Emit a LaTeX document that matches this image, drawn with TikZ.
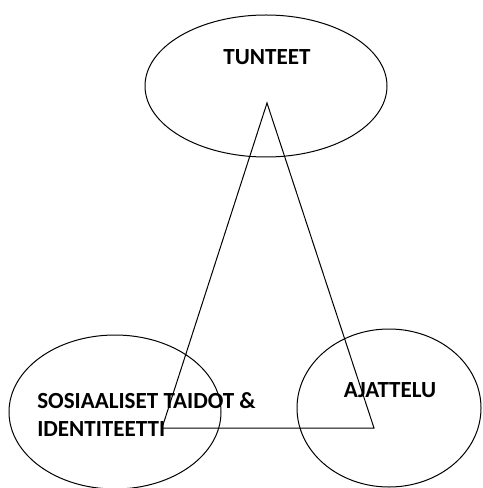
\documentclass[tikz,border=0pt]{standalone}
\usepackage{fontspec}
\setmainfont{Carlito}
\usetikzlibrary{shapes.geometric}
\begin{document}
\begin{tikzpicture}[x=0.75pt,y=-0.75pt,
  bubble/.style={draw, ellipse, inner sep=0pt, line width=0.75pt},
  label/.style={font=\bfseries\fontsize{17.3}{21}\selectfont, inner sep=0pt}]
\useasboundingbox (0,0) rectangle (482,488);
\node[bubble, minimum width=181.5pt, minimum height=106.5pt] (tunteet) at (266,86) {};
\node[bubble, minimum width=159pt, minimum height=115.5pt] (sosiaaliset) at (115,412) {};
\node[bubble, minimum width=138pt, minimum height=118.5pt] (ajattelu) at (389,408) {};
\coordinate (apex) at (267,103);
\coordinate (vasen) at (162,428);
\coordinate (oikea) at (374,428);
\draw[line width=0.75pt] (apex) -- (vasen) -- (oikea) -- cycle;
\node[label] (tunteetteksti) at (267,57) {TUNTEET};
\node[label, align=left, anchor=north west] (sosiaalisetteksti) at (37,392) {SOSIAALISET TAIDOT \&\\IDENTITEETTI};
\node[label] (ajatteluteksti) at (390,390) {AJATTELU};
\end{tikzpicture}
\end{document}
